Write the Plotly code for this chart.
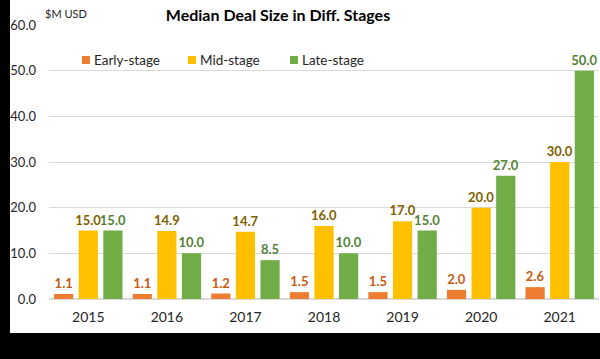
import plotly.graph_objects as go

years = ["2015", "2016", "2017", "2018", "2019", "2020", "2021"]
early = [1.1, 1.1, 1.2, 1.5, 1.5, 2.0, 2.6]
mid = [15.0, 14.9, 14.7, 16.0, 17.0, 20.0, 30.0]
late = [15.0, 10.0, 8.5, 10.0, 15.0, 27.0, 50.0]
y_ticks = [0, 10, 20, 30, 40, 50, 60]
series_names = ["Early-stage", "Mid-stage", "Late-stage"]

bar_colors = ["#ED7D31", "#FFC000", "#70AD47"]
label_colors = ["#C55A11", "#7F6000", "#548235"]

FONT = "Lato"
W, H = 600, 359
L, R, T, B = 49, 1, 25, 60
pw, ph = W - L - R, H - T - B


def px(x):
    return (x - L) / pw


def py(y):
    return (H - B - y) / ph


fig = go.Figure()
for name, vals, col, tcol in zip(series_names, [early, mid, late], bar_colors, label_colors):
    fig.add_trace(go.Bar(
        name=name, x=years, y=vals, marker_color=col, marker_line_width=0,
        text=[f"{v:.1f}" for v in vals], textposition="outside", constraintext="none",
        textfont=dict(family=FONT, size=13, color=tcol, weight="bold"),
        cliponaxis=False, showlegend=False, hoverinfo="skip",
    ))

# custom legend (square swatch + label)
legend_swatch_x = [82, 188, 290]
shapes = [dict(type="rect", xref="paper", yref="paper", layer="below",
               x0=px(10), x1=px(W + 5), y0=py(333), y1=py(-5),
               fillcolor="white", line=dict(width=0))]
annotations = [dict(text="$M USD", xref="paper", yref="paper", x=px(43), y=py(13),
                    xanchor="left", yanchor="middle", showarrow=False,
                    font=dict(family=FONT, size=11, color="#262626"))]
for sx, name, col in zip(legend_swatch_x, series_names, bar_colors):
    shapes.append(dict(type="rect", xref="paper", yref="paper", layer="above",
                       x0=px(sx), x1=px(sx + 8), y0=py(64), y1=py(56),
                       fillcolor=col, line=dict(width=0)))
    annotations.append(dict(text=name, xref="paper", yref="paper", x=px(sx + 10), y=py(60),
                            xanchor="left", yanchor="middle", showarrow=False,
                            font=dict(family=FONT, size=13.5, color="#262626")))

fig.update_layout(
    width=W, height=H,
    margin=dict(l=L, r=R, t=T, b=B, pad=0, autoexpand=False),
    paper_bgcolor="black", plot_bgcolor="white",
    barmode="group", bargap=0.06, bargroupgap=0.22,
    showlegend=False,
    font=dict(family=FONT, color="#262626"),
    title=dict(text="<b>Median Deal Size in Diff. Stages</b>", x=px(278), xref="paper",
               xanchor="center", y=1 - 15 / H, yanchor="middle",
               font=dict(family=FONT, size=16, color="black")),
    xaxis=dict(tickfont=dict(family=FONT, size=14, color="#262626"), ticks="", showline=False,
               ticklabelstandoff=8, automargin=False, fixedrange=True),
    yaxis=dict(range=[0, 60], tickvals=y_ticks, ticktext=[f"{v:.1f}" for v in y_ticks],
               tickfont=dict(family=FONT, size=13, color="#262626"),
               gridcolor="#D9D9D9", gridwidth=1, zeroline=True, zerolinecolor="#D9D9D9",
               ticks="", ticklabelstandoff=12, showline=False, automargin=False, fixedrange=True),
    shapes=shapes,
    annotations=annotations,
)

fig.write_html("out.html", config={"displayModeBar": False},
               post_script="document.body.style.margin='0';document.body.style.background='black';")
